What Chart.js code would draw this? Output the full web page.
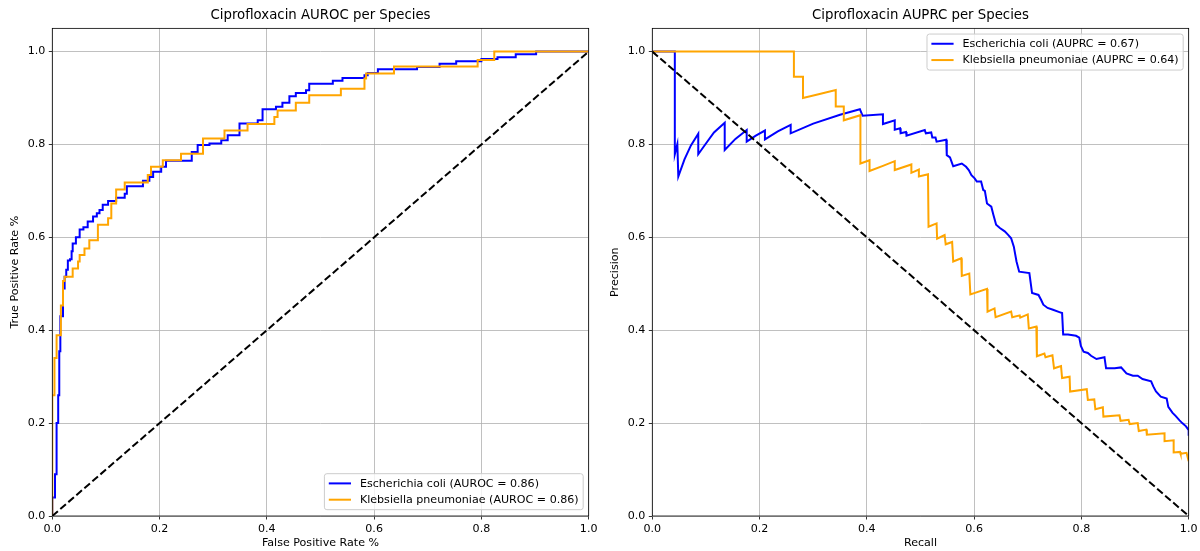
<!DOCTYPE html>
<html>
<head>
<meta charset="utf-8">
<title>Ciprofloxacin AUROC / AUPRC per Species</title>
<script src="https://cdn.jsdelivr.net/npm/chart.js@4/dist/chart.umd.min.js"></script>
<style>
  body { margin: 0; background: #fff; }
  .row { display: flex; width: 1200px; height: 551px; }
  canvas { display: block; }
</style>
</head>
<body>
<div class="row">
  <canvas id="rocChart" width="600" height="551"></canvas>
  <canvas id="prChart" width="600" height="551"></canvas>
</div>
<script>
// ---- data ----
const species = ['Escherichia coli', 'Klebsiella pneumoniae'];
const aurocScores = [0.86, 0.86];
const auprcScores = [0.67, 0.64];
const tickValues = [0, 0.2, 0.4, 0.6, 0.8, 1.0];

// ROC curves (false positive rate -> true positive rate, step points)
const ecoliFpr = [0, 0, 0.005, 0.008, 0.011, 0.013, 0.015, 0.02, 0.023, 0.026, 0.029, 0.033, 0.036, 0.038, 0.044, 0.051, 0.058, 0.066, 0.076, 0.083, 0.088, 0.094, 0.104, 0.119, 0.135, 0.139, 0.169, 0.181, 0.188, 0.203, 0.212, 0.26, 0.271, 0.293, 0.315, 0.327, 0.349, 0.383, 0.392, 0.417, 0.429, 0.442, 0.454, 0.473, 0.479, 0.523, 0.541, 0.582, 0.588, 0.607, 0.68, 0.722, 0.753, 0.8, 0.83, 0.864, 0.902, 1.0];
const ecoliTpr = [0, 0.04, 0.09, 0.2, 0.26, 0.355, 0.43, 0.49, 0.515, 0.53, 0.55, 0.553, 0.57, 0.587, 0.6, 0.617, 0.622, 0.634, 0.645, 0.652, 0.659, 0.67, 0.678, 0.685, 0.694, 0.71, 0.722, 0.73, 0.741, 0.752, 0.765, 0.784, 0.799, 0.802, 0.809, 0.82, 0.845, 0.852, 0.876, 0.881, 0.89, 0.904, 0.911, 0.917, 0.931, 0.937, 0.943, 0.949, 0.954, 0.962, 0.967, 0.974, 0.979, 0.984, 0.988, 0.994, 1.0, 1.0];
const klebFpr = [0, 0, 0.004, 0.008, 0.016, 0.02, 0.023, 0.038, 0.048, 0.051, 0.06, 0.069, 0.085, 0.104, 0.11, 0.119, 0.135, 0.178, 0.184, 0.206, 0.24, 0.281, 0.321, 0.364, 0.414, 0.42, 0.454, 0.479, 0.538, 0.582, 0.585, 0.637, 0.793, 0.824, 1.0];
const klebTpr = [0, 0.26, 0.34, 0.389, 0.453, 0.506, 0.515, 0.533, 0.548, 0.562, 0.576, 0.594, 0.627, 0.641, 0.673, 0.703, 0.718, 0.734, 0.752, 0.766, 0.78, 0.813, 0.83, 0.844, 0.859, 0.873, 0.89, 0.906, 0.92, 0.942, 0.953, 0.968, 0.982, 1.0, 1.0];

// precision-recall curves
const ecoliRecall = [0, 0.042, 0.042, 0.0467, 0.0485, 0.06, 0.072, 0.0857, 0.0857, 0.1, 0.115, 0.135, 0.135, 0.155, 0.176, 0.176, 0.193, 0.21, 0.21, 0.234, 0.258, 0.258, 0.3, 0.35, 0.387, 0.392, 0.43, 0.43, 0.452, 0.452, 0.462, 0.463, 0.473, 0.474, 0.508, 0.51, 0.52, 0.522, 0.528, 0.53, 0.548, 0.549, 0.555, 0.561, 0.577, 0.585, 0.59, 0.595, 0.601, 0.605, 0.613, 0.617, 0.62, 0.624, 0.632, 0.636, 0.641, 0.648, 0.657, 0.663, 0.669, 0.674, 0.679, 0.684, 0.703, 0.708, 0.72, 0.725, 0.729, 0.737, 0.747, 0.759, 0.764, 0.766, 0.775, 0.79, 0.796, 0.799, 0.804, 0.812, 0.818, 0.828, 0.843, 0.846, 0.862, 0.874, 0.884, 0.896, 0.905, 0.914, 0.93, 0.934, 0.939, 0.948, 0.959, 0.962, 0.97, 0.976, 0.983, 0.988, 0.995, 1, 1];
const ecoliPrecision = [1, 1, 0.779, 0.801, 0.731, 0.768, 0.798, 0.823, 0.779, 0.802, 0.826, 0.847, 0.788, 0.812, 0.831, 0.806, 0.819, 0.83, 0.811, 0.828, 0.842, 0.824, 0.845, 0.864, 0.876, 0.862, 0.865, 0.844, 0.852, 0.832, 0.835, 0.824, 0.827, 0.819, 0.831, 0.824, 0.826, 0.815, 0.815, 0.806, 0.81, 0.777, 0.772, 0.753, 0.759, 0.752, 0.745, 0.734, 0.727, 0.72, 0.72, 0.702, 0.7, 0.673, 0.666, 0.648, 0.627, 0.62, 0.613, 0.606, 0.598, 0.58, 0.548, 0.526, 0.523, 0.48, 0.476, 0.465, 0.455, 0.448, 0.444, 0.439, 0.437, 0.391, 0.391, 0.388, 0.384, 0.366, 0.354, 0.351, 0.345, 0.338, 0.342, 0.318, 0.318, 0.32, 0.307, 0.302, 0.302, 0.295, 0.29, 0.279, 0.268, 0.257, 0.253, 0.235, 0.222, 0.215, 0.206, 0.2, 0.193, 0.185, 0.173];
const klebRecall = [0, 0.264, 0.264, 0.281, 0.281, 0.31, 0.342, 0.342, 0.357, 0.357, 0.388, 0.388, 0.405, 0.405, 0.43, 0.452, 0.452, 0.483, 0.483, 0.497, 0.497, 0.514, 0.515, 0.53, 0.531, 0.545, 0.547, 0.559, 0.561, 0.576, 0.577, 0.591, 0.593, 0.624, 0.625, 0.638, 0.64, 0.669, 0.671, 0.685, 0.686, 0.7, 0.702, 0.716, 0.717, 0.731, 0.733, 0.746, 0.749, 0.762, 0.764, 0.778, 0.779, 0.81, 0.812, 0.824, 0.826, 0.84, 0.841, 0.871, 0.873, 0.888, 0.89, 0.905, 0.907, 0.921, 0.922, 0.955, 0.955, 0.972, 0.972, 0.984, 0.985, 0.996, 1];
const klebPrecision = [1, 1, 0.946, 0.946, 0.9, 0.908, 0.917, 0.882, 0.882, 0.852, 0.863, 0.759, 0.766, 0.743, 0.754, 0.764, 0.745, 0.757, 0.739, 0.746, 0.731, 0.736, 0.623, 0.63, 0.597, 0.605, 0.585, 0.59, 0.548, 0.555, 0.517, 0.522, 0.477, 0.489, 0.44, 0.447, 0.428, 0.44, 0.428, 0.432, 0.427, 0.434, 0.404, 0.408, 0.344, 0.35, 0.342, 0.346, 0.318, 0.323, 0.297, 0.3, 0.268, 0.273, 0.25, 0.251, 0.23, 0.234, 0.214, 0.217, 0.205, 0.207, 0.198, 0.2, 0.183, 0.186, 0.175, 0.178, 0.161, 0.163, 0.137, 0.138, 0.134, 0.136, 0.118];

// chance lines
const diagX = [0, 1];
const rocDiagY = [0, 1];
const prDiagY = [1, 0];

const BLUE = '#0000ff';
const ORANGE = '#ffa500';
const FONT = '"DejaVu Sans", sans-serif';
const TEXT_SIZE = 11.1;

Chart.defaults.font.family = FONT;
Chart.defaults.font.size = TEXT_SIZE;
Chart.defaults.color = '#000';

const toPoints = (xs, ys) => xs.map((x, i) => ({ x: x, y: ys[i] }));

// box around the axes plus a matplotlib-style legend inside it
const frameAndLegend = {
  id: 'frameAndLegend',
  afterDraw(chart, args, opts) {
    const { ctx, chartArea: a } = chart;
    ctx.save();
    ctx.strokeStyle = '#000';
    ctx.lineWidth = 0.8;
    ctx.strokeRect(a.left, a.top, a.right - a.left, a.bottom - a.top);

    const items = chart.data.datasets.filter(d => d.label);
    ctx.font = TEXT_SIZE + 'px ' + FONT;
    const textW = Math.max(...items.map(d => ctx.measureText(d.label).width));
    const w = 35.5 + textW + 4.5;
    const h = 36;
    const x = a.right - 5.5 - w;
    const y = opts.corner === 'upper right' ? a.top + 5.7 : a.bottom - 6.3 - h;

    ctx.beginPath();
    ctx.roundRect(x, y, w, h, 2.5);
    ctx.fillStyle = 'rgba(255,255,255,0.8)';
    ctx.fill();
    ctx.strokeStyle = '#cccccc';
    ctx.lineWidth = 1;
    ctx.stroke();

    items.forEach((d, i) => {
      const cy = y + 9.7 + i * 16.3;
      ctx.beginPath();
      ctx.moveTo(x + 4.4, cy);
      ctx.lineTo(x + 26.6, cy);
      ctx.strokeStyle = d.borderColor;
      ctx.lineWidth = 2;
      ctx.stroke();
      ctx.fillStyle = '#000';
      ctx.textBaseline = 'middle';
      ctx.fillText(d.label, x + 35.5, cy + 0.5);
    });
    ctx.restore();
  }
};

function axis(label, max, isX) {
  return {
    type: 'linear',
    min: 0,
    max: max,
    afterBuildTicks: s => { s.ticks = tickValues.map(v => ({ value: v })); },
    afterFit: s => { if (isX) s.height = 35; else s.width = 52.3; },
    ticks: { callback: v => v.toFixed(1), padding: isX ? 2.5 : 3.5, maxRotation: 0, autoSkip: false },
    grid: { color: '#b0b0b0', lineWidth: 0.8, tickLength: 3.5, tickColor: '#000', tickWidth: 0.8 },
    border: { display: false },
    title: {
      display: true,
      text: label,
      font: { size: TEXT_SIZE },
      padding: isX ? { top: 1, bottom: 1 } : { top: 8.3, bottom: 1 }
    }
  };
}

function curve(label, color, xs, ys, order, stepped) {
  return {
    label: label,
    data: toPoints(xs, ys),
    borderColor: color,
    backgroundColor: color,
    borderWidth: 2,
    pointRadius: 0,
    showLine: true,
    stepped: stepped,
    order: order,
    clip: 0
  };
}

function diagonal(ys) {
  return {
    label: '',
    data: toPoints(diagX, ys),
    borderColor: '#000',
    borderWidth: 2,
    borderDash: [7.4, 3.2],
    pointRadius: 0,
    showLine: true,
    order: 0,
    clip: 0
  };
}

function makeChart(id, title, datasets, xLabel, yLabel, corner) {
  return new Chart(document.getElementById(id), {
    type: 'scatter',
    data: { datasets: datasets },
    plugins: [frameAndLegend],
    options: {
      responsive: false,
      animation: false,
      events: [],
      layout: { padding: { left: 0, right: 10.5, top: 0, bottom: 0 } },
      plugins: {
        legend: { display: false },
        tooltip: { enabled: false },
        title: {
          display: true,
          text: title,
          fullSize: false,
          font: { size: 13.3, weight: 'normal' },
          color: '#000',
          padding: { top: 8, bottom: 4.4 }
        },
        frameAndLegend: { corner: corner }
      },
      scales: {
        x: axis(xLabel, 1, true),
        y: axis(yLabel, 1.05, false)
      }
    }
  });
}

makeChart('rocChart', 'Ciprofloxacin AUROC per Species', [
  curve(`${species[0]} (AUROC = ${aurocScores[0].toFixed(2)})`, BLUE, ecoliFpr, ecoliTpr, 2, true),
  curve(`${species[1]} (AUROC = ${aurocScores[1].toFixed(2)})`, ORANGE, klebFpr, klebTpr, 1, true),
  diagonal(rocDiagY)
], 'False Positive Rate %', 'True Positive Rate %', 'lower right');

makeChart('prChart', 'Ciprofloxacin AUPRC per Species', [
  curve(`${species[0]} (AUPRC = ${auprcScores[0].toFixed(2)})`, BLUE, ecoliRecall, ecoliPrecision, 2, false),
  curve(`${species[1]} (AUPRC = ${auprcScores[1].toFixed(2)})`, ORANGE, klebRecall, klebPrecision, 1, false),
  diagonal(prDiagY)
], 'Recall', 'Precision', 'upper right');
</script>
</body>
</html>
